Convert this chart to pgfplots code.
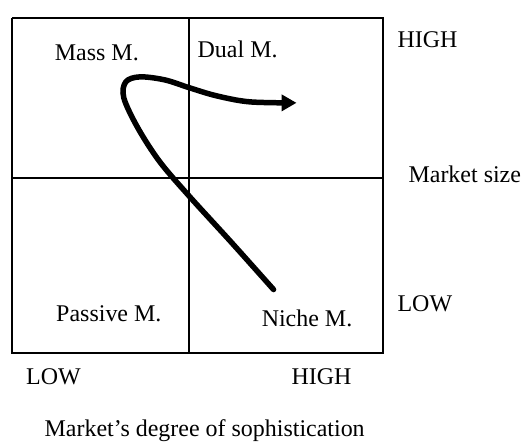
\documentclass[border=0pt]{standalone}
\usepackage{pgfplots}
\pgfplotsset{compat=1.18}
\usepackage{fontspec}
\setmainfont{Liberation Serif}
\usetikzlibrary{arrows.meta}
\tikzset{lbl/.style={inner sep=0pt, font=\fontsize{24}{28}\selectfont}}
\begin{document}
\begin{tikzpicture}
\begin{axis}[
  scale only axis, width=521pt, height=440pt,
  xmin=0, xmax=521, ymin=0, ymax=440, y dir=reverse,
  hide axis, clip=false,
]
\path (axis cs:0,0) -- (axis cs:521,440);
% outer box
\addplot[black, line width=2pt, mark=none] coordinates {(12.5,18) (384,18) (384,354) (12.5,354) (12.5,18)};
% inner lines
\addplot[black, line width=1.6pt, mark=none] coordinates {(189,18) (189,354)};
\addplot[black, line width=1.6pt, mark=none] coordinates {(12.5,178) (384,178)};
% trajectory
\addplot[black, line width=5.5pt, mark=none, smooth, tension=0.55, line cap=round,
  -{Triangle[length=15pt,width=16pt]}] coordinates {
  (274,290) (232,243) (190,197) (160,162) (138,128) (124,98) (126,82) (140,77)
  (165,80) (190,88) (217,96) (250,102) (297,103)
};
% labels
\node[lbl, anchor=base] at (axis cs:97,61) {Mass M.};
\node[lbl, anchor=base] at (axis cs:238,58) {Dual M.};
\node[lbl, anchor=base] at (axis cs:109,322) {Passive M.};
\node[lbl, anchor=base] at (axis cs:307.5,327) {Niche M.};
\node[lbl, anchor=base west] at (axis cs:398,48) {HIGH};
\node[lbl, anchor=base west] at (axis cs:409,183) {Market size};
\node[lbl, anchor=base west] at (axis cs:398,312) {LOW};
\node[lbl, anchor=base] at (axis cs:53.5,385) {LOW};
\node[lbl, anchor=base] at (axis cs:322,385) {HIGH};
\node[lbl, anchor=base] at (axis cs:205,437) {Market’s degree of sophistication};
\end{axis}
\end{tikzpicture}
\end{document}
